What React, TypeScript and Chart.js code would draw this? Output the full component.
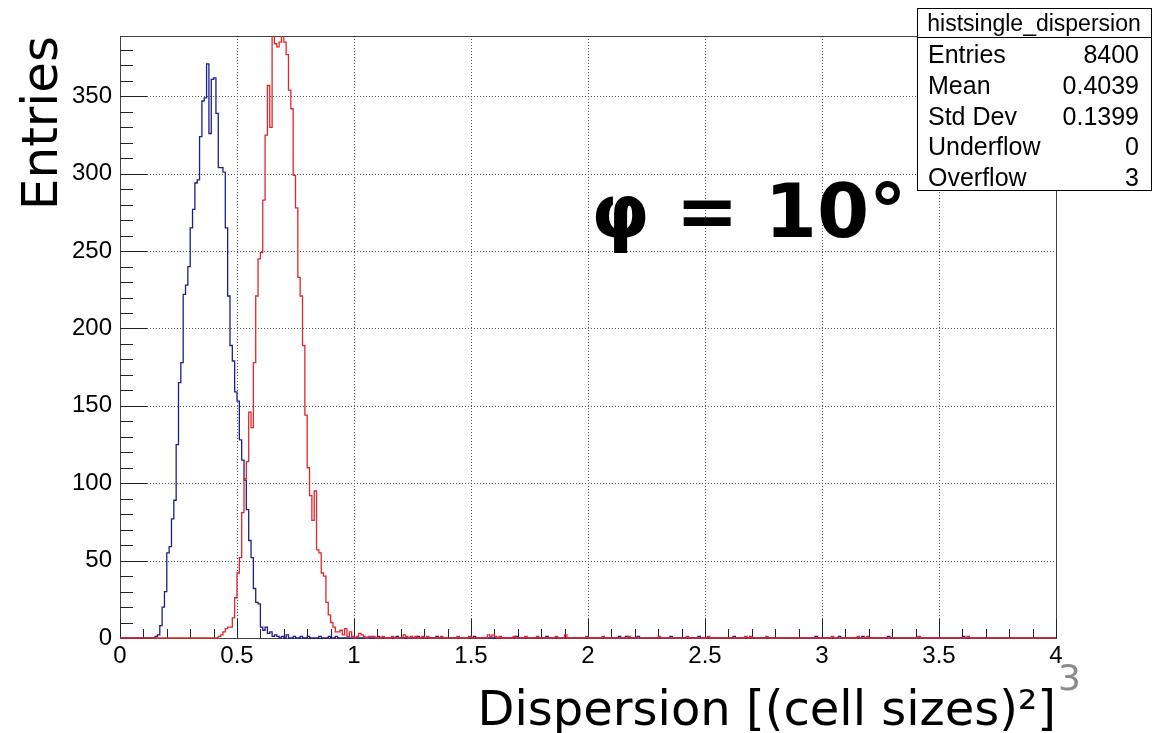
import React, { useEffect, useRef } from 'react';
import { Chart, registerables } from 'chart.js';

Chart.register(...registerables);

// ---- Data (bin width 0.01, range 0..4) ----
const BIN_WIDTH = 0.01;
const X_MIN = 0;
const X_MAX = 4;
const Y_MAX = 389;

// Blue histogram (histsingle_dispersion): contiguous core starting at 0.16
const blueCoreStart = 0.16;
const blueCoreCounts = [
  1, 2, 8, 20, 30, 55, 59, 77, 89, 125, // 0.16 - 0.25
  165, 178, 222, 228, 240, 265, 277, 294, 296, 324, // 0.26 - 0.35
  347, 349, 371, 326, 361, 362, 339, 304, 304, 301, // 0.36 - 0.45
  265, 221, 189, 179, 159, 153, 128, 115, 102, 83, // 0.46 - 0.55
  63, 52, 32, 23, 22, 7, 5, 7, 3, 4, // 0.56 - 0.65
  1, 2, // 0.66 - 0.67
];
const blueTailX = [0.68, 0.7, 0.72, 0.75, 0.78, 0.81, 0.86, 0.9, 0.93, 1.11, 1.19, 1.28, 1.36, 1.52, 1.7, 1.83, 2.14, 2.17, 2.22, 2.36, 2.48, 2.63, 2.98, 3.08, 3.18, 3.29, 3.61];
const blueTailCounts = [1, 1, 2, 1, 1, 1, 1, 1, 1, 1, 1, 1, 1, 1, 1, 1, 1, 1, 1, 1, 1, 1, 1, 1, 1, 1, 1];

// Red histogram: contiguous core starting at 0.43
const redCoreStart = 0.43;
const redCoreCounts = [
  1, 2, 4, 6, 7, 7, 13, 26, 42, 52, // 0.43 - 0.52
  81, 103, 114, 146, 136, 178, 221, 245, 249, 283, // 0.53 - 0.62
  325, 357, 330, 394, 384, 382, 385, 390, 385, 377, // 0.63 - 0.72
  354, 342, 299, 278, 233, 221, 189, 144, 110, 92, // 0.73 - 0.82
  76, 95, 57, 55, 42, 40, 23, 15, 10, 7, // 0.83 - 0.92
  4, 4, 5, 2, 6, 1, 4, 1, // 0.93 - 1.00
];
const redTailX = [1.02, 1.03, 1.04, 1.05, 1.07, 1.08, 1.09, 1.13, 1.17, 1.22, 1.23, 1.25, 1.27, 1.3, 1.32, 1.38, 1.45, 1.5, 1.58, 1.59, 1.6, 1.61, 1.63, 1.69, 1.74, 1.79, 1.87, 1.91, 2.0, 2.07, 2.18, 2.31, 2.43, 2.52, 2.68, 2.7, 2.77, 3.05, 3.16, 3.2, 3.42, 3.63];
const redTailCounts = [1, 3, 2, 1, 1, 1, 1, 1, 1, 2, 1, 1, 1, 1, 1, 1, 1, 1, 2, 1, 2, 1, 1, 1, 1, 1, 1, 2, 1, 1, 1, 1, 1, 1, 1, 1, 1, 1, 1, 1, 1, 1];

// Axis ticks
const yMajorTicks = [0, 50, 100, 150, 200, 250, 300, 350];
const xMajorTicks = [0, 0.5, 1, 1.5, 2, 2.5, 3, 3.5, 4];

// Stats box
const statsTitle = 'histsingle_dispersion';
const statsLabels = ['Entries', 'Mean', 'Std Dev', 'Underflow', 'Overflow'];
const statsValues = ['8400', '0.4039', '0.1399', '0', '3'];

const annotationText = 'φ = 10°';
const xTitle = 'Dispersion [(cell sizes)²]';
const yTitle = 'Entries';
const pageNumber = '3';

function buildSteps(coreStart: number, core: number[], tailX: number[], tailCounts: number[]) {
  const n = Math.round((X_MAX - X_MIN) / BIN_WIDTH);
  const counts: number[] = new Array(n).fill(0);
  const s = Math.round((coreStart - X_MIN) / BIN_WIDTH);
  core.forEach((c, i) => { counts[s + i] = c; });
  tailX.forEach((x, i) => { counts[Math.round((x - X_MIN) / BIN_WIDTH)] = tailCounts[i]; });
  const pts = counts.map((c, i) => ({ x: X_MIN + i * BIN_WIDTH, y: c }));
  pts.push({ x: X_MAX, y: counts[n - 1] });
  return pts;
}

const rootPlugin = {
  id: 'rootStyle',
  beforeDatasetsDraw(chart: any) {
    const { ctx, chartArea: a, scales } = chart;
    const xs = scales.x, ys = scales.y;
    ctx.save();
    // dotted grid
    ctx.strokeStyle = '#555';
    ctx.lineWidth = 1;
    ctx.setLineDash([1, 2]);
    yMajorTicks.forEach((v) => {
      if (v <= 0) return;
      const p = Math.round(ys.getPixelForValue(v)) + 0.5;
      ctx.beginPath(); ctx.moveTo(a.left, p); ctx.lineTo(a.right, p); ctx.stroke();
    });
    xMajorTicks.forEach((v) => {
      if (v <= X_MIN || v >= X_MAX) return;
      const p = Math.round(xs.getPixelForValue(v)) + 0.5;
      ctx.beginPath(); ctx.moveTo(p, a.top); ctx.lineTo(p, a.bottom); ctx.stroke();
    });
    ctx.setLineDash([]);
    // frame
    ctx.strokeStyle = '#444';
    ctx.strokeRect(Math.round(a.left) + 0.5, Math.round(a.top) + 0.5, Math.round(a.right - a.left), Math.round(a.bottom - a.top));
    // ticks
    ctx.strokeStyle = '#222';
    ctx.beginPath();
    for (let v = 0; v <= Y_MAX; v += 10) {
      const p = Math.round(ys.getPixelForValue(v)) + 0.5;
      const len = v % 50 === 0 ? 27 : 13;
      ctx.moveTo(a.left, p); ctx.lineTo(a.left + len, p);
    }
    for (let k = 0; k <= 40; k++) {
      const v = k / 10;
      const p = Math.round(xs.getPixelForValue(v)) + 0.5;
      const len = k % 5 === 0 ? 19 : 9;
      ctx.moveTo(p, a.bottom); ctx.lineTo(p, a.bottom - len);
    }
    ctx.stroke();
    ctx.restore();
  },
  afterDraw(chart: any) {
    const { ctx } = chart;
    ctx.save();
    // annotation
    ctx.fillStyle = '#000';
    ctx.font = 'bold 75px "DejaVu Sans"';
    ctx.textAlign = 'left';
    ctx.textBaseline = 'alphabetic';
    ctx.fillText(annotationText, 591, 237);
    // stats box
    const bx = 917, by = 8, bw = 234, bh = 182;
    ctx.fillStyle = '#fff';
    ctx.fillRect(bx, by, bw, bh);
    ctx.strokeStyle = '#000';
    ctx.lineWidth = 1;
    ctx.strokeRect(bx + 0.5, by + 0.5, bw, bh);
    ctx.beginPath(); ctx.moveTo(bx, 37.5); ctx.lineTo(bx + bw, 37.5); ctx.stroke();
    ctx.fillStyle = '#000';
    ctx.font = '23px "Liberation Sans"';
    ctx.textAlign = 'center';
    ctx.fillText(statsTitle, bx + bw / 2, 31);
    ctx.font = '25px "Liberation Sans"';
    const baselines = [63, 94, 125, 155, 186];
    statsLabels.forEach((l, i) => {
      ctx.textAlign = 'left';
      ctx.fillText(l, 928, baselines[i]);
      ctx.textAlign = 'right';
      ctx.fillText(statsValues[i], 1139, baselines[i]);
    });
    // page number
    ctx.fillStyle = '#8a8a8a';
    ctx.font = '36px "DejaVu Sans"';
    ctx.textAlign = 'left';
    ctx.fillText(pageNumber, 1058, 690);
    ctx.restore();
  },
};

export default function App() {
  const ref = useRef<HTMLCanvasElement | null>(null);
  useEffect(() => {
    document.body.style.margin = '0';
    const canvas = ref.current;
    if (!canvas) return;
    const chart = new Chart(canvas, {
      type: 'line',
      data: {
        datasets: [
          {
            label: 'red',
            data: buildSteps(redCoreStart, redCoreCounts, redTailX, redTailCounts),
            borderColor: '#e3262a',
            borderWidth: 1.3,
            stepped: 'after',
            pointRadius: 0,
            fill: false,
            clip: { left: 1, top: 0, right: 1, bottom: 2 },
          },
          {
            label: 'blue',
            data: buildSteps(blueCoreStart, blueCoreCounts, blueTailX, blueTailCounts),
            borderColor: '#1f1f86',
            borderWidth: 1.3,
            stepped: 'after',
            pointRadius: 0,
            fill: false,
            clip: { left: 1, top: 0, right: 1, bottom: 2 },
          },
        ],
      },
      options: {
        animation: false,
        responsive: false,
        devicePixelRatio: 1,
        layout: { padding: { top: 36, right: 109, left: 0, bottom: 0 } },
        plugins: { legend: { display: false }, tooltip: { enabled: false } },
        events: [],
        scales: {
          x: {
            type: 'linear',
            min: X_MIN,
            max: X_MAX,
            grid: { display: false, drawTicks: false },
            border: { display: false },
            ticks: {
              stepSize: 0.5,
              autoSkip: false,
              maxRotation: 0,
              padding: 4,
              color: '#000',
              font: { family: 'Liberation Sans', size: 24 },
              callback: (v: any) => String(Number(v)),
            },
            title: {
              display: true,
              text: xTitle,
              align: 'end',
              color: '#000',
              font: { family: 'DejaVu Sans', size: 48, lineHeight: 0.8 },
              padding: { top: 0, bottom: 1 },
            },
            afterFit: (s: any) => { s.height = 95; },
          },
          y: {
            type: 'linear',
            min: 0,
            max: Y_MAX,
            grid: { display: false, drawTicks: false },
            border: { display: false },
            ticks: {
              stepSize: 50,
              includeBounds: false,
              padding: 8,
              color: '#000',
              font: { family: 'Liberation Sans', size: 24 },
            },
            title: {
              display: true,
              text: yTitle,
              align: 'end',
              color: '#000',
              font: { family: 'DejaVu Sans', size: 50, lineHeight: 0.8 },
              padding: { top: 24, bottom: 0 },
            },
            afterFit: (s: any) => { s.width = 120; },
          },
        },
      },
      plugins: [rootPlugin],
    } as any);
    return () => chart.destroy();
  }, []);
  return (
    <div style={{ position: 'absolute', left: 0, top: 0, width: 1165, height: 733, background: '#fff' }}>
      <canvas ref={ref} width={1165} height={733} style={{ display: 'block' }} />
    </div>
  );
}
